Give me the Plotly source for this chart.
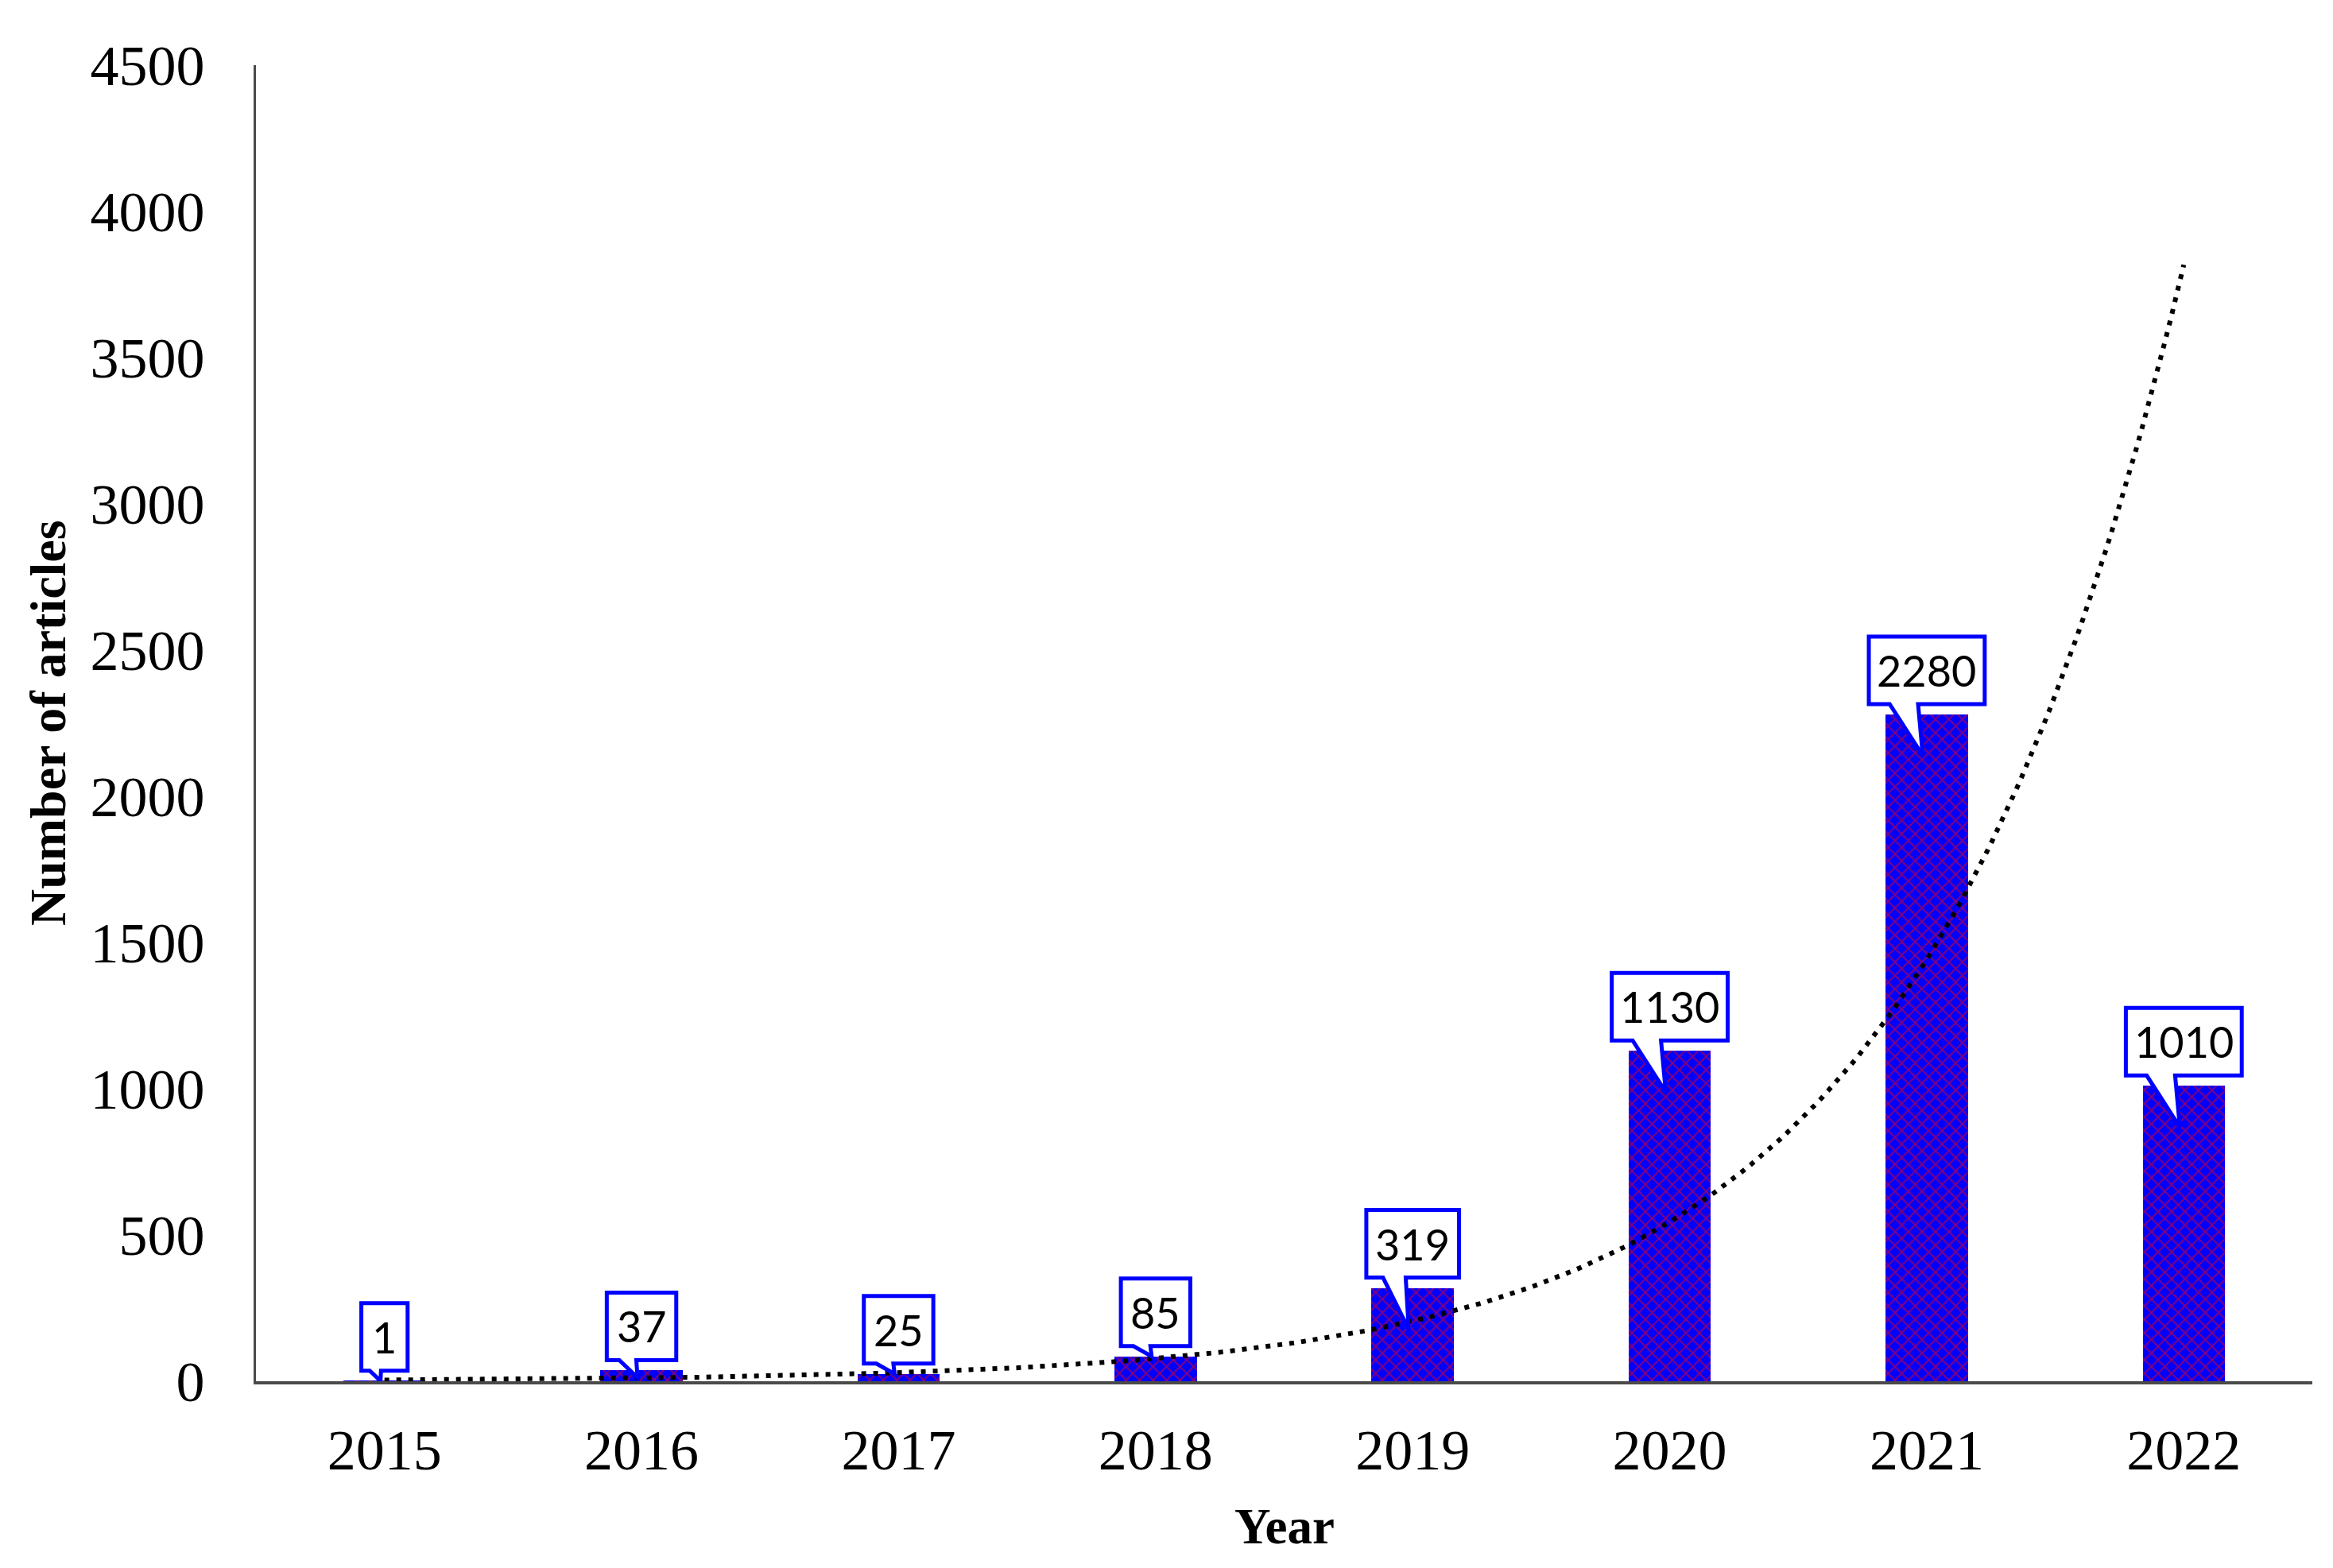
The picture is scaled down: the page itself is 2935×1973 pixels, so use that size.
import numpy as np
import plotly.graph_objects as go

# ---- data ----
years = ["2015", "2016", "2017", "2018", "2019", "2020", "2021", "2022"]
articles = [1, 37, 25, 85, 319, 1130, 2280, 1010]
y_ticks = [0, 500, 1000, 1500, 2000, 2500, 3000, 3500, 4000, 4500]

# ---- style ----
PAGE_OFF = 8                      # default body margin of the html page
W, H = 2935 - 2 * PAGE_OFF, 1973 - 2 * PAGE_OFF
PL, PR, PT, PB = 322, 2909, 82, 1738   # plot area in page pixels
ML = PL - PAGE_OFF
MR = W + PAGE_OFF - PR
MT = PT - PAGE_OFF
MB = H + PAGE_OFF - PB
BLUE = "#0000ff"
AXIS = "#4a4a4a"
tail_depth = [0, 9, 0, 0, 52, 52, 52, 52]   # callout pointer depth below bar top (px)

xs = list(range(len(years)))

fig = go.Figure()

fig.add_trace(go.Bar(
    x=xs, y=articles, width=0.32,
    marker=dict(color=BLUE, line=dict(width=0),
                pattern=dict(shape="x", fgcolor="#ff0000", bgcolor=BLUE,
                             size=12, solidity=0.3)),
    showlegend=False, hoverinfo="skip",
))

# exponential trendline fitted to the data (Excel style, x = 1..n)
n = np.arange(1, len(articles) + 1)
b, lna = np.polyfit(n, np.log(articles), 1)
xt = np.linspace(0, len(articles) - 1, 300)
yt = np.exp(lna) * np.exp(b * (xt + 1))
fig.add_trace(go.Scatter(
    x=xt, y=yt, mode="lines",
    line=dict(color="black", width=6, dash="6px,9px"),
    showlegend=False, hoverinfo="skip",
))

shapes = []
annotations = []
for i, (yr, v) in enumerate(zip(years, articles)):
    label = str(v)
    hw = 14.5 + 14.6 * len(label)
    yb, ytop = 13, 98
    l, r = -0.64 * hw, -0.15 * hw
    tipx, tipy = -5, -tail_depth[i]
    path = (f"M {-hw},{yb} L {-hw},{ytop} L {hw},{ytop} L {hw},{yb} "
            f"L {r},{yb} L {tipx},{tipy} L {l},{yb} Z")
    shapes.append(dict(
        type="path", xref="x", yref="y",
        xsizemode="pixel", ysizemode="pixel",
        xanchor=i, yanchor=v, path=path,
        fillcolor="white", line=dict(color=BLUE, width=5), layer="above",
    ))
    annotations.append(dict(
        x=i, y=v, xref="x", yref="y", text=label, showarrow=False,
        yanchor="middle", xanchor="center", yshift=(yb + ytop) / 2,
        font=dict(family="Lato", size=54, color="black"),
    ))

plot_w = PR - PL
plot_h = PB - PT
annotations.append(dict(
    x=(60 - PL) / plot_w, y=0.5, xref="paper", yref="paper",
    text="<b>Number of articles</b>", textangle=-90, showarrow=False,
    xanchor="center", yanchor="middle",
    font=dict(family="Liberation Serif", size=64, color="black"),
))
annotations.append(dict(
    x=0.5, y=-(1921 - PB) / plot_h, xref="paper", yref="paper",
    text="<b>Year</b>", showarrow=False, xanchor="center", yanchor="middle",
    font=dict(family="Liberation Serif", size=63, color="black"),
))

fig.update_layout(
    width=W, height=H,
    margin=dict(l=ML, r=MR, t=MT, b=MB, pad=0),
    paper_bgcolor="white", plot_bgcolor="white",
    shapes=shapes, annotations=annotations,
    bargap=0,
    xaxis=dict(
        range=[-0.5, len(years) - 0.5], tickvals=xs, ticktext=years,
        showgrid=False, zeroline=False, showline=True,
        linecolor=AXIS, linewidth=4, ticks="", ticklabelstandoff=21,
        tickfont=dict(family="Liberation Serif", size=72, color="black"),
    ),
    yaxis=dict(
        range=[0, 4500], tickvals=y_ticks, showgrid=False, zeroline=False,
        showline=True, linecolor=AXIS, linewidth=3, ticks="",
        ticklabelstandoff=47,
        tickfont=dict(family="Liberation Serif", size=72, color="black"),
    ),
)

fig.write_html("out.html")
